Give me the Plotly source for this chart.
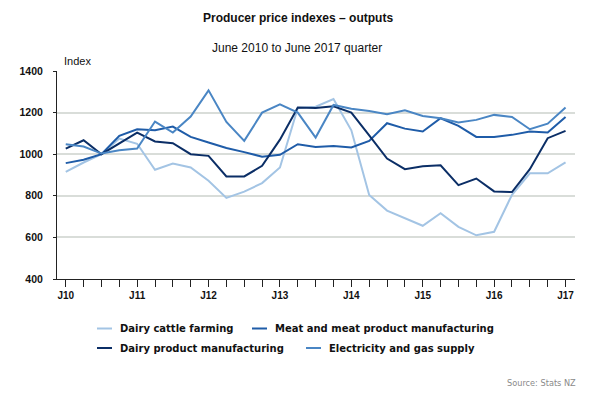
import plotly.graph_objects as go

quarters = list(range(29))  # June 2010 .. June 2017 quarters
tick_labels = []
for i in range(29):
    tick_labels.append("J%02d" % (10 + i // 4) if i % 4 == 0 else "")

dairy_cattle = [915, 960, 1000, 1075, 1050, 925, 955, 936, 872, 790, 820, 861, 936,
                1222, 1228, 1265, 1115, 804, 729, 693, 656, 716, 651, 610, 627, 805,
                908, 908, 961]
meat = [957, 973, 1000, 1088, 1120, 1115, 1133, 1083, 1056, 1030, 1010, 988, 997,
        1048, 1035, 1040, 1032, 1064, 1149, 1123, 1109, 1173, 1136, 1083, 1083, 1093,
        1109, 1104, 1179]
dairy_product = [1027, 1067, 1000, 1051, 1104, 1061, 1053, 1000, 992, 893, 893, 944,
                 1070, 1225, 1222, 1230, 1200, 1090, 979, 928, 942, 947, 851, 883, 821,
                 818, 928, 1077, 1112]
electricity = [1048, 1037, 1003, 1019, 1027, 1157, 1104, 1181, 1307, 1155, 1064, 1200,
               1240, 1200, 1080, 1237, 1219, 1208, 1192, 1211, 1184, 1173, 1152, 1165,
               1189, 1179, 1120, 1147, 1224]

series_names = ["Dairy cattle farming", "Meat and meat product manufacturing",
                "Dairy product manufacturing", "Electricity and gas supply"]
series_values = [dairy_cattle, meat, dairy_product, electricity]
colors = ["#a3c4e4", "#1f5ca8", "#0b2e66", "#4a86c4"]

# page body has an 8px default margin; work in reference pixel coords minus offset
OFF = 8
W, H = 600 - OFF, 398 - OFF
L, R, T, B = 57 - OFF, 575 - OFF, 71 - OFF, 279 - OFF

fig = go.Figure()
for name, vals, col in zip(series_names, series_values, colors):
    fig.add_trace(go.Scatter(x=quarters, y=vals, mode="lines", name=name,
                             line=dict(color=col, width=2), showlegend=False))

def px_x(p):
    return (p - OFF - L) / (R - L)

def px_y(p):
    return (B - (p - OFF)) / (B - T)

shapes = []
annotations = []
legend_items = [
    (97, 328.5, series_names[0], colors[0]),
    (252, 328.5, series_names[1], colors[1]),
    (97, 348, series_names[2], colors[2]),
    (306, 348, series_names[3], colors[3]),
]
for x0, yy, name, col in legend_items:
    shapes.append(dict(type="line", xref="paper", yref="paper",
                       x0=px_x(x0), x1=px_x(x0 + 15), y0=px_y(yy), y1=px_y(yy),
                       line=dict(color=col, width=2)))
    annotations.append(dict(xref="paper", yref="paper", x=px_x(x0 + 21), y=px_y(yy),
                            xanchor="left", yanchor="middle", showarrow=False,
                            text=name, font=dict(family="DejaVu Sans", size=10,
                                                 weight="bold", color="#111111")))

annotations.append(dict(xref="paper", yref="paper", x=px_x(62), y=px_y(61),
                        xanchor="left", yanchor="middle", showarrow=False,
                        text="Index", font=dict(family="Liberation Sans", size=11,
                                                color="#111111")))
annotations.append(dict(xref="paper", yref="paper", x=px_x(297), y=px_y(48),
                        xanchor="center", yanchor="middle", showarrow=False,
                        text="June 2010 to June 2017 quarter",
                        font=dict(family="Liberation Sans", size=12, color="#111111")))
annotations.append(dict(xref="paper", yref="paper", x=px_x(578), y=px_y(383),
                        xanchor="right", yanchor="middle", showarrow=False,
                        text="Source: Stats NZ",
                        font=dict(family="DejaVu Sans", size=8.2, color="#8a8a8a")))
annotations.append(dict(xref="paper", yref="paper", x=px_x(298), y=px_y(18),
                        xanchor="center", yanchor="middle", showarrow=False,
                        text="Producer price indexes – outputs",
                        font=dict(family="Liberation Sans", size=12, weight="bold",
                                  color="#111111")))

fig.update_layout(
    width=W, height=H,
    margin=dict(l=L, r=W - R, t=T, b=H - B, pad=0),
    paper_bgcolor="white", plot_bgcolor="white",
    shapes=shapes, annotations=annotations,
    xaxis=dict(range=[-0.49, 28.53], tickmode="array", tickvals=quarters,
               ticktext=tick_labels, ticks="outside", ticklen=7, tickwidth=1,
               tickcolor="#222222", showgrid=False, zeroline=False,
               showline=True, linecolor="#222222", linewidth=1,
               tickfont=dict(family="Liberation Sans", size=10, weight="bold",
                             color="#111111")),
    yaxis=dict(range=[400, 1400], tickvals=[400, 600, 800, 1000, 1200, 1400],
               ticks="outside", ticklen=3, tickcolor="#222222",
               showgrid=True, gridcolor="#d9ddd9", gridwidth=2, zeroline=False,
               showline=True, linecolor="#222222", linewidth=1,
               ticklabelstandoff=8,
               tickfont=dict(family="Liberation Sans", size=10.5, weight="bold",
                             color="#111111")),
)

fig.write_html("out.html")
